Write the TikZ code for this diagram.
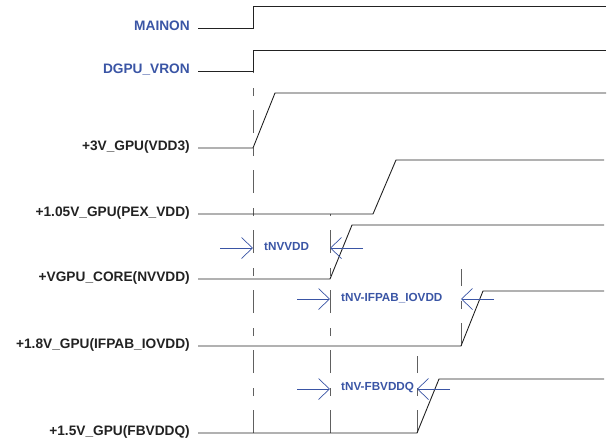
\documentclass[tikz,border=0pt]{standalone}
\usepackage{fontspec}
\setmainfont{Liberation Sans}
\usetikzlibrary{arrows.meta}
\definecolor{seqblue}{HTML}{3A55A5}
\definecolor{seqtrace}{HTML}{222222}
\definecolor{seqmark}{HTML}{606060}
\tikzset{
  railname/.style={
    anchor=base east,
    inner sep=0pt,
    text=seqtrace,
    font=\fontsize{13.7}{16}\selectfont\bfseries
  },
  enablename/.style={railname, text=seqblue},
  railtrace/.style={draw=seqtrace, line width=0.9pt},
  seqmarker/.style={draw=seqmark, line width=1pt, dash pattern=on 23pt off 14pt on 8pt off 15pt},
  timingarrow/.style={draw=seqblue, line width=0.7pt, -{Straight Barb[length=11pt, width=21pt, line width=0.7pt]}},
  timingname/.style={anchor=west, inner sep=0pt, text=seqblue, font=\fontsize{11.7}{14}\selectfont\bfseries}
}
\begin{document}
\begin{tikzpicture}[x=1pt, y=-1pt]
\useasboundingbox (0,0) rectangle (608,442);
% rail names
\node[enablename] (mainon) at (190,30) {MAINON};
\node[enablename] (vron) at (190,73) {DGPU\_VRON};
\node[railname] (vdd3) at (190,150) {+3V\_GPU(VDD3)};
\node[railname] (pexvdd) at (190,216) {+1.05V\_GPU(PEX\_VDD)};
\node[railname] (nvvdd) at (190,281) {+VGPU\_CORE(NVVDD)};
\node[railname] (iovdd) at (190,348) {+1.8V\_GPU(IFPAB\_IOVDD)};
\node[railname] (fbvddq) at (190,435) {+1.5V\_GPU(FBVDDQ)};
% sequence markers
\coordinate (m1top) at (253,42);
\coordinate (m1bot) at (253,433);
\coordinate (m2top) at (330,214);
\coordinate (m2bot) at (330,433);
\coordinate (m3top) at (461,269);
\coordinate (m3bot) at (461,346);
\coordinate (m4top) at (417,356);
\coordinate (m4bot) at (417,433);
\draw[seqmarker] (m1bot) -- (m1top);
\draw[seqmarker] (m2bot) -- (m2top);
\draw[seqmarker] (m3bot) -- (m3top);
\draw[seqmarker] (m4bot) -- (m4top);
% waveforms
\draw[railtrace] (198,28) -- (253,28) -- (253,6) -- (606,6);
\draw[railtrace] (198,71) -- (253,71) -- (253,50) -- (606,50);
\draw[railtrace] (198,148) -- (253,148) -- (275,93) -- (606,93);
\draw[railtrace] (198,214) -- (373,214) -- (396,160) -- (604,160);
\draw[railtrace] (198,279) -- (330,279) -- (352,225) -- (604,225);
\draw[railtrace] (198,346) -- (461,346) -- (483,291) -- (604,291);
\draw[railtrace] (198,433) -- (417,433) -- (439,379) -- (604,379);
% timing arrows
\coordinate (t1l) at (220,248);
\coordinate (t1a) at (253,248);
\coordinate (t1b) at (330,248);
\coordinate (t1r) at (363,248);
\coordinate (t2l) at (297,299);
\coordinate (t2a) at (330,299);
\coordinate (t2b) at (461,299);
\coordinate (t2r) at (494,299);
\coordinate (t3l) at (297,389);
\coordinate (t3a) at (330,389);
\coordinate (t3b) at (417,389);
\coordinate (t3r) at (450,389);
\draw[timingarrow] (t1l) -- (t1a);
\draw[timingarrow] (t1r) -- (t1b);
\draw[timingarrow] (t2l) -- (t2a);
\draw[timingarrow] (t2r) -- (t2b);
\draw[timingarrow] (t3l) -- (t3a);
\draw[timingarrow] (t3r) -- (t3b);
\node[timingname] (tnvvdd) at (264,247) {tNVVDD};
\node[timingname] (tiovdd) at (341,298) {tNV-IFPAB\_IOVDD};
\node[timingname] (tfbvddq) at (341,388) {tNV-FBVDDQ};
\end{tikzpicture}
\end{document}
